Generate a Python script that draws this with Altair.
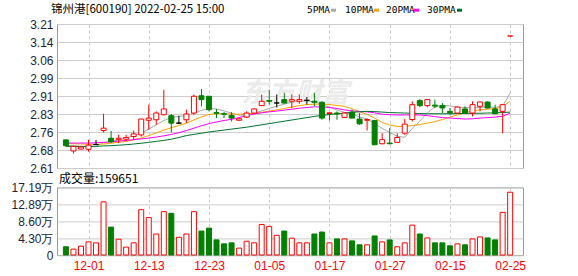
import altair as alt
import pandas as pd

# ---------------- data ----------------
dates = ["11-26", "11-29", "11-30", "12-01", "12-02", "12-03", "12-06", "12-07", "12-08", "12-09",
         "12-10", "12-13", "12-14", "12-15", "12-16", "12-17", "12-20", "12-21", "12-22", "12-23",
         "12-24", "12-27", "12-28", "12-29", "12-30", "12-31", "01-04", "01-05", "01-06", "01-07",
         "01-10", "01-11", "01-12", "01-13", "01-14", "01-17", "01-18", "01-19", "01-20", "01-21",
         "01-24", "01-25", "01-26", "01-27", "01-28", "02-07", "02-08", "02-09", "02-10", "02-11",
         "02-14", "02-15", "02-16", "02-17", "02-18", "02-21", "02-22", "02-23", "02-24", "02-25"]

opens = [2.727, 2.681, 2.689, 2.688, 2.708, 2.766, 2.734, 2.728, 2.730, 2.741,
         2.748, 2.809, 2.811, 2.832, 2.828, 2.797, 2.811, 2.839, 2.911, 2.909,
         2.841, 2.836, 2.829, 2.809, 2.822, 2.839, 2.870, 2.891, 2.881, 2.895,
         2.888, 2.888, 2.892, 2.888, 2.884, 2.837, 2.839, 2.821, 2.843, 2.814,
         2.809, 2.808, 2.711, 2.714, 2.717, 2.755, 2.812, 2.891, 2.870, 2.872,
         2.870, 2.846, 2.839, 2.856, 2.839, 2.867, 2.885, 2.856, 2.846, 3.160]
highs = [2.730, 2.702, 2.699, 2.728, 2.727, 2.836, 2.765, 2.748, 2.748, 2.766,
         2.815, 2.874, 2.846, 2.936, 2.835, 2.828, 2.853, 2.916, 2.939, 2.909,
         2.856, 2.843, 2.843, 2.817, 2.846, 2.858, 2.916, 2.936, 2.916, 2.923,
         2.916, 2.916, 2.906, 2.923, 2.888, 2.842, 2.846, 2.841, 2.853, 2.839,
         2.815, 2.808, 2.755, 2.776, 2.755, 2.814, 2.888, 2.898, 2.897, 2.895,
         2.881, 2.860, 2.866, 2.867, 2.888, 2.887, 2.887, 2.874, 2.876, 3.160]
lows = [2.698, 2.670, 2.687, 2.678, 2.706, 2.758, 2.714, 2.714, 2.722, 2.728,
        2.741, 2.769, 2.790, 2.830, 2.758, 2.793, 2.797, 2.832, 2.867, 2.846,
        2.818, 2.818, 2.804, 2.808, 2.818, 2.837, 2.868, 2.874, 2.862, 2.878,
        2.860, 2.878, 2.874, 2.867, 2.811, 2.808, 2.811, 2.819, 2.816, 2.790,
        2.766, 2.705, 2.709, 2.709, 2.714, 2.748, 2.804, 2.863, 2.863, 2.860,
        2.839, 2.832, 2.837, 2.835, 2.825, 2.846, 2.858, 2.834, 2.755, 3.160]
closes = [2.703, 2.700, 2.697, 2.705, 2.708, 2.776, 2.719, 2.734, 2.737, 2.752,
          2.814, 2.818, 2.839, 2.856, 2.797, 2.797, 2.835, 2.909, 2.895, 2.853,
          2.838, 2.834, 2.818, 2.815, 2.839, 2.856, 2.888, 2.888, 2.881, 2.881,
          2.895, 2.895, 2.892, 2.884, 2.818, 2.840, 2.835, 2.839, 2.818, 2.794,
          2.812, 2.707, 2.728, 2.711, 2.737, 2.793, 2.874, 2.870, 2.895, 2.868,
          2.860, 2.840, 2.864, 2.839, 2.874, 2.885, 2.860, 2.836, 2.874, 3.160]
candle_dir = ["down", "up", "up", "up", "flat", "up", "down", "up", "up", "up",
              "up", "up", "up", "up", "down", "flat", "up", "up", "down", "down",
              "down", "down", "down", "up", "up", "up", "up", "down", "flat", "down",
              "up", "up", "flat", "down", "down", "up", "down", "up", "down", "down",
              "up", "down", "up", "down", "up", "up", "up", "down", "up", "down",
              "down", "down", "up", "down", "up", "up", "down", "down", "up", "up"]

ma5 = [2.705, 2.703, 2.700, 2.700, 2.701, 2.715, 2.720, 2.728, 2.735, 2.745,
       2.755, 2.772, 2.790, 2.808, 2.820, 2.825, 2.828, 2.838, 2.850, 2.858,
       2.856, 2.848, 2.838, 2.830, 2.830, 2.838, 2.848, 2.858, 2.868, 2.876,
       2.884, 2.888, 2.890, 2.886, 2.874, 2.864, 2.852, 2.842, 2.835, 2.822,
       2.815, 2.795, 2.775, 2.758, 2.742, 2.738, 2.775, 2.805, 2.840, 2.865,
       2.872, 2.868, 2.864, 2.862, 2.860, 2.862, 2.866, 2.862, 2.868, 2.922]
ma10 = [2.712, 2.711, 2.710, 2.709, 2.708, 2.710, 2.713, 2.717, 2.721, 2.727,
        2.735, 2.745, 2.756, 2.768, 2.778, 2.787, 2.797, 2.810, 2.823, 2.833,
        2.836, 2.836, 2.835, 2.834, 2.835, 2.838, 2.842, 2.847, 2.852, 2.858,
        2.864, 2.870, 2.874, 2.876, 2.876, 2.874, 2.871, 2.867, 2.857, 2.845,
        2.833, 2.818, 2.800, 2.789, 2.783, 2.783, 2.787, 2.791, 2.797, 2.803,
        2.812, 2.822, 2.831, 2.840, 2.848, 2.852, 2.855, 2.858, 2.865, 2.889]
ma20 = [2.714, 2.714, 2.714, 2.714, 2.715, 2.717, 2.719, 2.722, 2.725, 2.728,
        2.731, 2.735, 2.739, 2.744, 2.750, 2.757, 2.766, 2.776, 2.786, 2.795,
        2.802, 2.808, 2.813, 2.820, 2.828, 2.835, 2.840, 2.844, 2.847, 2.851,
        2.855, 2.859, 2.862, 2.865, 2.864, 2.862, 2.858, 2.852, 2.848, 2.845,
        2.844, 2.840, 2.834, 2.832, 2.831, 2.831, 2.831, 2.831, 2.828, 2.824,
        2.820, 2.818, 2.816, 2.814, 2.815, 2.818, 2.820, 2.822, 2.826, 2.838]
ma30 = [2.700, 2.700, 2.700, 2.700, 2.700, 2.702, 2.703, 2.705, 2.707, 2.710,
        2.713, 2.717, 2.721, 2.725, 2.730, 2.737, 2.745, 2.750, 2.755, 2.760,
        2.764, 2.768, 2.772, 2.776, 2.780, 2.785, 2.790, 2.795, 2.800, 2.805,
        2.810, 2.815, 2.820, 2.825, 2.829, 2.833, 2.836, 2.839, 2.842, 2.844,
        2.846, 2.845, 2.843, 2.841, 2.840, 2.839, 2.838, 2.837, 2.836, 2.836,
        2.836, 2.836, 2.837, 2.837, 2.838, 2.838, 2.839, 2.840, 2.841, 2.843]

volume = [2.09, 1.50, 2.25, 3.34, 3.09, 13.52, 7.09, 4.01, 2.00, 3.09,
          11.52, 9.51, 5.34, 11.02, 10.60, 4.51, 5.34, 11.02, 6.09, 6.84,
          3.84, 2.84, 3.09, 1.75, 3.50, 3.09, 7.76, 7.26, 5.01, 6.09,
          4.26, 3.09, 3.09, 5.34, 5.84, 3.09, 4.09, 4.09, 3.59, 2.59,
          2.59, 4.84, 3.34, 3.84, 2.09, 3.09, 7.59, 5.34, 4.34, 3.09,
          3.09, 2.34, 2.84, 2.59, 4.09, 4.59, 4.34, 3.84, 10.85, 15.9651]
vol_dir = ["down", "up", "up", "up", "up", "up", "down", "up", "up", "up",
           "up", "up", "up", "up", "down", "up", "up", "up", "down", "down",
           "down", "down", "down", "up", "up", "up", "up", "up", "up", "down",
           "up", "up", "up", "down", "down", "up", "down", "up", "down", "down",
           "up", "down", "up", "down", "up", "up", "up", "down", "up", "down",
           "down", "down", "up", "down", "up", "up", "down", "down", "up", "up"]

tick_dates = ["12-01", "12-13", "12-23", "01-05", "01-17", "01-27", "02-15", "02-25"]
price_ticks = [2.61, 2.685, 2.76, 2.835, 2.91, 2.985, 3.06, 3.135, 3.21]
price_labels = ["2.61", "2.68", "2.76", "2.83", "2.91", "2.99", "3.06", "3.14", "3.21"]
vol_ticks = [0, 4.2975, 8.595, 12.8925, 17.19]
vol_labels = ["0", "4.30万", "8.60万", "12.89万", "17.19万"]
ma_names = ["5PMA", "10PMA", "20PMA", "30PMA"]
ma_colors = ["#a8a8a8", "#f5a300", "#ff00ff", "#00702e"]
header_text = "锦州港[600190] 2022-02-25 15:00"
volume_text = "成交量:159651"

# ---------------- tables ----------------
n = len(dates)
df = pd.DataFrame({
    "i": list(range(n)), "date": dates, "open": opens, "high": highs, "low": lows,
    "close": closes, "dir": candle_dir,
    "5PMA": ma5, "10PMA": ma10, "20PMA": ma20, "30PMA": ma30,
})
df["body_lo"] = df[["open", "close"]].min(axis=1)
df["body_hi"] = df[["open", "close"]].max(axis=1)
vdf = pd.DataFrame({"i": list(range(n)), "vol": volume, "dir": vol_dir})
one = pd.DataFrame({"a": [0]})

tick_idx = [dates.index(d) for d in tick_dates]
date_expr = "[" + ",".join(f"'{d}'" for d in dates) + "][datum.value]"
price_expr = "[" + ",".join(f"'{s}'" for s in price_labels) + "][round((datum.value-2.61)/0.075)]"
vol_expr = "[" + ",".join(f"'{s}'" for s in vol_labels) + "][round(datum.value/4.2975)]"

FONT = "Liberation Sans"
CJK = "Noto Sans CJK SC"
W = 466
H_TOP = 144
H_BOT = 67.6

dirs = ["up", "down", "flat"]
stroke_scale = alt.Scale(domain=dirs, range=["#ff0000", "#008000", "#000000"])
fill_scale = alt.Scale(domain=dirs, range=["#ffffff", "#008000", "#000000"])
xscale = alt.Scale(domain=[-0.52, 60.04], nice=False, zero=False)

x_top = alt.X("i:Q", scale=xscale, title=None,
              axis=alt.Axis(values=tick_idx, labels=False, ticks=False, domain=False,
                            grid=True, gridDash=[3, 3], gridColor="#cccccc"))


def y_price(field):
    return alt.Y(f"{field}:Q", title=None,
                 scale=alt.Scale(domain=[2.61, 3.21], nice=False, zero=False),
                 axis=alt.Axis(values=price_ticks, labelExpr=price_expr, ticks=False,
                               domain=False, grid=True, gridColor="#cccccc",
                               labelPadding=4, labelFont=FONT, labelFontSize=12,
                               labelColor="#1e2436", labelOverlap=False))


watermark = alt.Chart(one).mark_text(
    text="东方财富", font=CJK, fontSize=27, fontWeight="bold", fontStyle="italic",
    color="#ebebeb", align="center", baseline="middle"
).encode(x=alt.value(238), y=alt.value(70))

lines = alt.Chart(df).transform_fold(ma_names, as_=["ma", "value"]).mark_line(
    strokeWidth=1
).encode(
    x=x_top, y=y_price("value"),
    color=alt.Color("ma:N", scale=alt.Scale(domain=ma_names, range=ma_colors), legend=None),
)

wicks = alt.Chart(df).mark_rule(strokeWidth=1).encode(
    x=x_top, y=y_price("low"), y2="high:Q",
    color=alt.Color("dir:N", scale=stroke_scale, legend=None),
)

bodies = alt.Chart(df).mark_bar(size=5, strokeWidth=1).encode(
    x=x_top, y=y_price("body_lo"), y2="body_hi:Q",
    stroke=alt.Stroke("dir:N", scale=stroke_scale, legend=None),
    fill=alt.Fill("dir:N", scale=fill_scale, legend=None),
)

anchor = alt.Chart(one).mark_rule(color="#ffffff", opacity=0.01).encode(
    x=alt.value(-56), x2=alt.value(-55), y=alt.value(-22.3), y2=alt.value(-21.3)
)

header = alt.Chart(one).mark_text(
    text=header_text, font=CJK, fontSize=11.5, color="#000000",
    align="left", baseline="middle"
).encode(x=alt.value(-6), y=alt.value(-14.3))

legend_layers = []
text_x = [250, 288, 329, 370]
sq_x = [274, 317, 357, 400]
for name, col, tx, sx in zip(ma_names, ma_colors, text_x, sq_x):
    legend_layers.append(
        alt.Chart(one).mark_text(text=name, font="DejaVu Sans Mono", fontSize=9.5,
                                 color="#000000", align="left", baseline="middle")
        .encode(x=alt.value(tx), y=alt.value(-14.3))
    )
    legend_layers.append(
        alt.Chart(one).mark_rect(color=col)
        .encode(x=alt.value(sx), x2=alt.value(sx + 5), y=alt.value(-15.3), y2=alt.value(-12.3))
    )

top = alt.layer(watermark, lines, wicks, bodies, anchor, header, *legend_layers).resolve_scale(
    color="independent", stroke="independent", fill="independent"
).properties(width=W, height=H_TOP)

# ---------------- volume panel ----------------
x_bot = alt.X("i:Q", scale=xscale, title=None,
              axis=alt.Axis(values=tick_idx, labelExpr=date_expr, ticks=False, domain=False,
                            grid=True, gridDash=[3, 3], gridColor="#cccccc",
                            labelColor="#ff0000", labelFont=FONT, labelFontSize=12,
                            labelPadding=5, labelOverlap=False))

vbars = alt.Chart(vdf).mark_bar(size=5, strokeWidth=1).encode(
    x=x_bot,
    y=alt.Y("vol:Q", title=None, scale=alt.Scale(domain=[0, 17.19], nice=False),
            axis=alt.Axis(values=vol_ticks, labelExpr=vol_expr, ticks=False, domain=False,
                          grid=True, gridColor="#cccccc", labelPadding=4,
                          labelFont=FONT, labelFontSize=12, labelColor="#1e2436",
                          labelOverlap=False)),
    stroke=alt.Stroke("dir:N", scale=stroke_scale, legend=None),
    fill=alt.Fill("dir:N", scale=fill_scale, legend=None),
)

vtitle = alt.Chart(one).mark_text(
    text=volume_text, font=CJK, fontSize=12, color="#000000",
    align="left", baseline="middle"
).encode(x=alt.value(2), y=alt.value(-8.7))

bottom = alt.layer(vbars, vtitle).properties(width=W, height=H_BOT)

chart = alt.vconcat(top, bottom, spacing=19.4, bounds="flush").properties(
    padding=0, background="#ffffff"
).configure_view(stroke="#999999", strokeWidth=1)

chart.save("out.html", embed_options={"renderer": "svg", "actions": False})
